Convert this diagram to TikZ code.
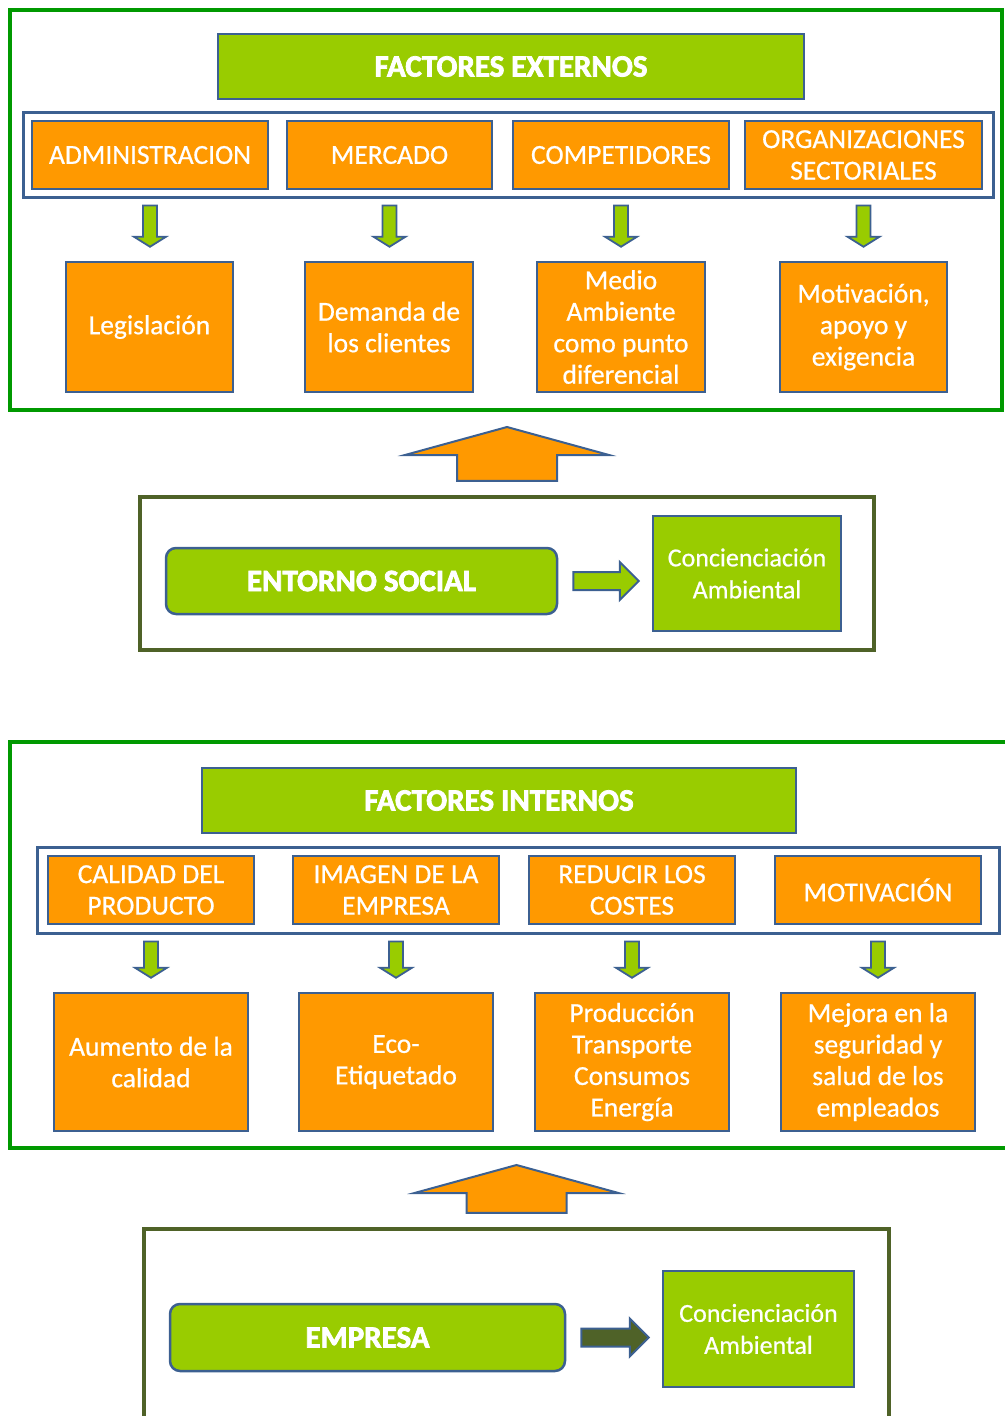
\documentclass[tikz,border=0pt]{standalone}
\usepackage{fontspec}
\setmainfont{Carlito}[FakeBold=0.6]
\newfontfamily\headfont{Carlito}[FakeBold=2.5]
\usetikzlibrary{calc}
\definecolor{marco}{RGB}{0,153,0}
\definecolor{oliva}{RGB}{79,98,40}
\definecolor{lima}{RGB}{153,204,0}
\definecolor{naranja}{RGB}{255,153,0}
\definecolor{borde}{RGB}{60,96,145}

% block arrows between named nodes
\newcommand\flechabaja[3]{%
  \draw[flechav] let \p1=(#1.south |- #2.south), \p2=(#3.north) in
    (\x1-7pt,\y1-7pt) -- (\x1+7pt,\y1-7pt) -- (\x1+7pt,\y2+24pt) -- (\x1+16pt,\y2+24pt)
    -- (\x1,\y2+14pt) -- (\x1-16pt,\y2+24pt) -- (\x1-7pt,\y2+24pt) -- cycle;}
\newcommand\flechasube[2]{%
  \draw[flechaup] let \p1=(#1.north), \p2=(#2.south) in
    (\x1-50pt,\y1+14pt) -- (\x1-50pt,\y2-43pt) -- (\x1-102pt,\y2-43pt) -- (\x1,\y2-15pt)
    -- (\x1+102pt,\y2-43pt) -- (\x1+50pt,\y2-43pt) -- (\x1+50pt,\y1+14pt) -- cycle;}
\newcommand\flechaderecha[3]{%
  \draw[#1] let \p1=(#2.east), \p2=(#3.west) in
    (\x1+15pt,\y1+9pt) -- (\x2-32pt,\y1+9pt) -- (\x2-32pt,\y1+19pt) -- (\x2-13pt,\y1)
    -- (\x2-32pt,\y1-19pt) -- (\x2-32pt,\y1-9pt) -- (\x1+15pt,\y1-9pt) -- cycle;}

\begin{document}
\begin{tikzpicture}[x=1pt,y=-1pt,line join=miter,
  every node/.style={align=center,text=white,inner sep=1pt,font=\fontsize{27.5}{31.5}\selectfont},
  caja/.style={draw=borde,line width=2.5pt,fill=naranja},
  titulo/.style={draw=borde,line width=2.5pt,fill=lima,font=\headfont\bfseries\fontsize{31}{36}\selectfont},
  resultado/.style={draw=borde,line width=2.5pt,fill=lima,font=\fontsize{26}{32}\selectfont},
  grupo/.style={draw=borde,line width=3pt},
  marcoverde/.style={draw=marco,line width=4pt},
  marcooliva/.style={draw=oliva,line width=4.5pt},
  flechav/.style={draw=borde,line width=1.8pt,fill=lima},
  flechaup/.style={draw=borde,line width=2pt,fill=naranja},
  flechalima/.style={draw=borde,line width=2pt,fill=lima},
  flechaoliva/.style={draw=borde,line width=2pt,fill=oliva}]
\useasboundingbox (0,0) rectangle (1004,1416);

% factores externos
\node[marcoverde,minimum width=992pt,minimum height=400pt] (ext) at (506,210) {};
\node[titulo,minimum width=586pt,minimum height=65pt] (fext) at (511,66.5) {FACTORES EXTERNOS};
\node[grupo,minimum width=970pt,minimum height=85pt] (gext) at (508,154.5) {};
\node[caja,minimum width=236pt,minimum height=68pt] (a1) at (150,155) {ADMINISTRACION};
\node[caja,minimum width=205pt,minimum height=68pt] (a2) at (389.5,155) {MERCADO};
\node[caja,minimum width=216pt,minimum height=68pt] (a3) at (621,155) {COMPETIDORES};
\node[caja,minimum width=237pt,minimum height=68pt] (a4) at (863.5,155) {ORGANIZACIONES\\SECTORIALES};
\node[caja,minimum width=167pt,minimum height=130pt] (b1) at (149.5,327) {Legislación};
\node[caja,minimum width=168pt,minimum height=130pt] (b2) at (389,327) {Demanda de\\los clientes};
\node[caja,minimum width=168pt,minimum height=130pt] (b3) at (621,327) {Medio\\Ambiente\\como punto\\diferencial};
\node[caja,minimum width=167pt,minimum height=130pt] (b4) at (863.5,327) {Motivación,\\apoyo y\\exigencia};
\foreach \i in {1,...,4} {\flechabaja{a\i}{gext}{b\i}}

% entorno social
\node[marcooliva,minimum width=734pt,minimum height=153pt] (ent) at (507,573.5) {};
\node[titulo,rounded corners=10pt,minimum width=391pt,minimum height=66pt] (soc) at (361.5,581) {ENTORNO SOCIAL};
\node[resultado,minimum width=188pt,minimum height=115pt] (conc1) at (747,573.5) {Concienciación\\Ambiental};
\flechaderecha{flechalima}{soc}{conc1}
\flechasube{ent}{ext}

% factores internos
\node[marcoverde,minimum width=1008pt,minimum height=406pt] (int) at (514,945) {};
\node[titulo,minimum width=594pt,minimum height=65pt] (fint) at (499,800.5) {FACTORES INTERNOS};
\node[grupo,minimum width=962pt,minimum height=86pt] (gint) at (518,890) {};
\node[caja,minimum width=206pt,minimum height=68pt] (c1) at (151,890) {CALIDAD DEL\\PRODUCTO};
\node[caja,minimum width=206pt,minimum height=68pt] (c2) at (396,890) {IMAGEN DE LA\\EMPRESA};
\node[caja,minimum width=206pt,minimum height=68pt] (c3) at (632,890) {REDUCIR LOS\\COSTES};
\node[caja,minimum width=206pt,minimum height=68pt] (c4) at (878,890) {MOTIVACIÓN};
\node[caja,minimum width=194pt,minimum height=138pt] (d1) at (151,1062) {Aumento de la\\calidad};
\node[caja,minimum width=194pt,minimum height=138pt] (d2) at (396,1062) {Eco-\\Etiquetado};
\node[caja,minimum width=194pt,minimum height=138pt] (d3) at (632,1062) {Producción\\Transporte\\Consumos\\Energía};
\node[caja,minimum width=194pt,minimum height=138pt] (d4) at (878,1062) {Mejora en la\\seguridad y\\salud de los\\empleados};
\foreach \i in {1,...,4} {\flechabaja{c\i}{gint}{d\i}}

% empresa
\node[marcooliva,minimum width=745pt,minimum height=215pt] (emp0) at (516.5,1336.5) {};
\node[titulo,rounded corners=10pt,minimum width=395pt,minimum height=67pt] (emp) at (367.5,1337.5) {EMPRESA};
\node[resultado,minimum width=191pt,minimum height=116pt] (conc2) at (758.5,1329) {Concienciación\\Ambiental};
\flechaderecha{flechaoliva}{emp}{conc2}
\flechasube{emp0}{int}
\end{tikzpicture}
\end{document}
